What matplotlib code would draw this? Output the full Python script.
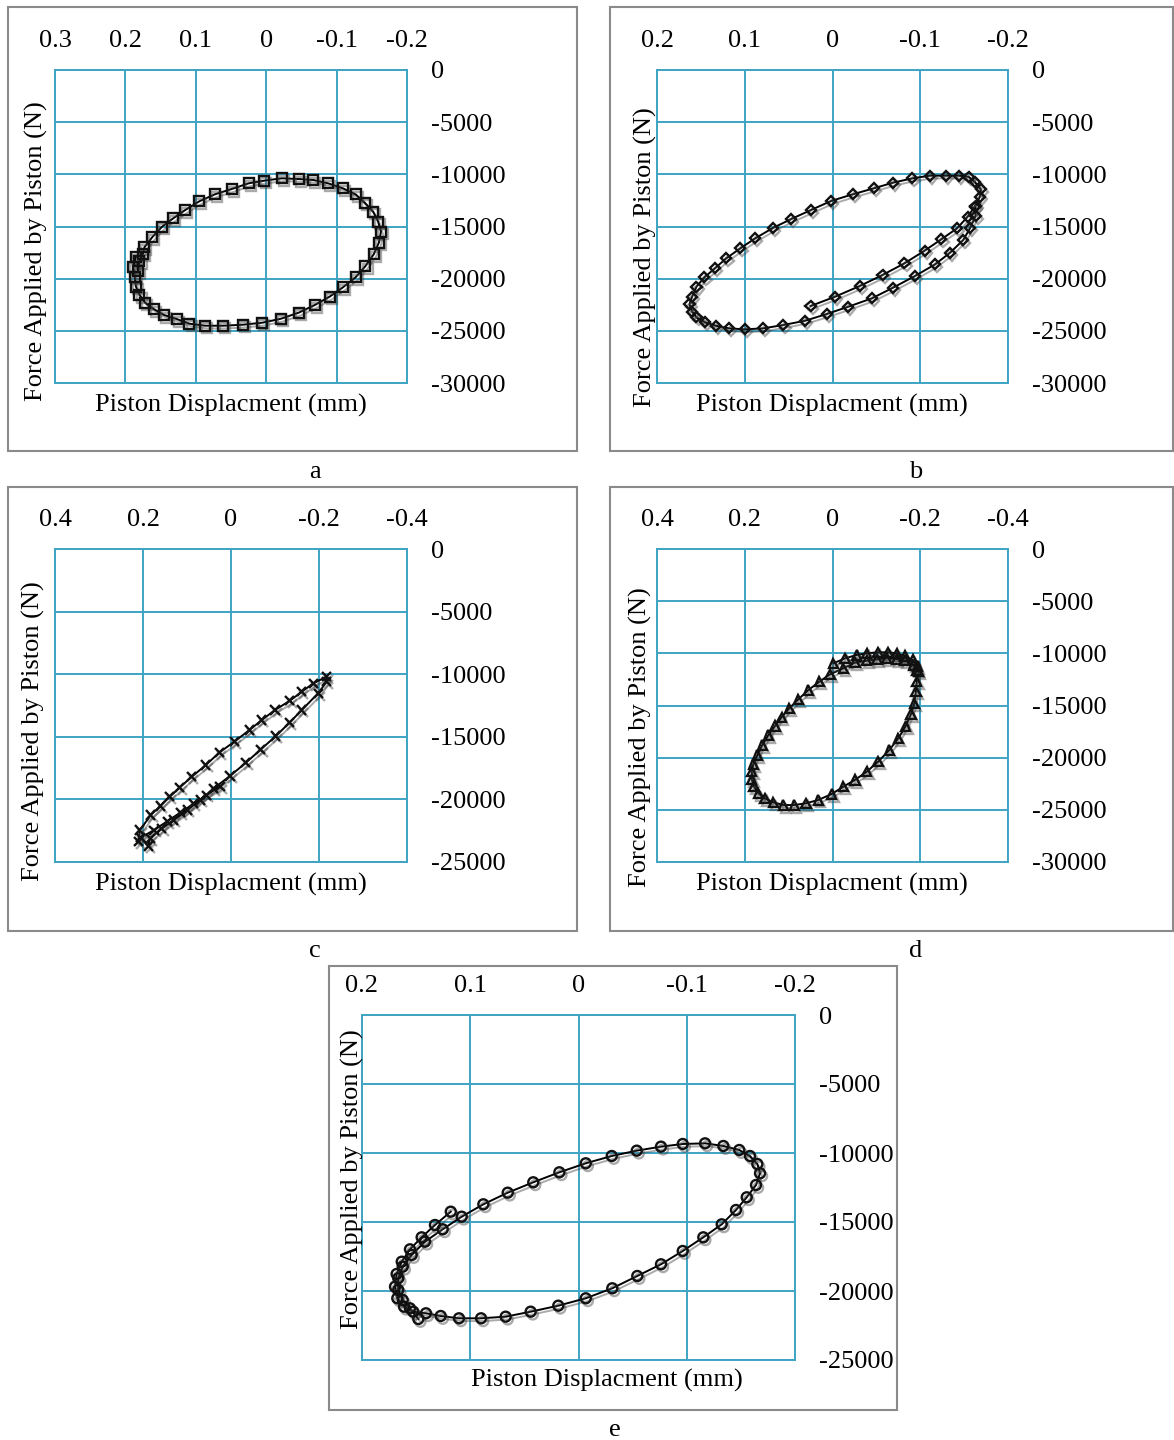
import matplotlib
matplotlib.use('Agg')
import matplotlib.pyplot as plt
import matplotlib.patheffects as pe
from matplotlib.patches import Rectangle

plt.rcParams['font.family'] = ['Liberation Serif', 'DejaVu Serif']

# ---------------- DATA ----------------
# Panel a (square markers)
a_x = [0.182, 0.180, 0.175, 0.173, 0.162, 0.148, 0.132, 0.115, 0.095, 0.073, 0.049, 0.025, 0.003,
       -0.022, -0.046, -0.067, -0.088, -0.109, -0.127, -0.140, -0.152, -0.159, -0.163, -0.160,
       -0.153, -0.141, -0.127, -0.109, -0.090, -0.069, -0.046, -0.021, 0.0055, 0.033, 0.061,
       0.0865, 0.109, 0.127, 0.145, 0.159, 0.172, 0.180, 0.185, 0.187, 0.189, 0.185]
a_y = [-19300, -18300, -17600, -16994, -16036, -15020, -14214, -13419, -12585, -11917, -11406,
       -10863, -10608, -10381, -10448, -10544, -10863, -11342, -11917, -12719, -13582, -14540,
       -15499, -16553, -17636, -18787, -19870, -20829, -21729, -22525, -23263, -23838, -24221,
       -24413, -24509, -24509, -24317, -23867, -23483, -22940, -22304, -21566, -20767, -19808,
       -18850, -17900]

# Panel b (diamond markers)
b_x = [0.025, -0.003, -0.031, -0.057, -0.082, -0.105, -0.124, -0.142, -0.154, -0.162, -0.168,
       -0.169, -0.162, -0.155, -0.144, -0.129, -0.111, -0.091, -0.069, -0.047, -0.023, 0.0017,
       0.0245, 0.047, 0.068, 0.088, 0.105, 0.121, 0.134, 0.146, 0.155, 0.160, 0.163, 0.160,
       0.155, 0.145, 0.133, 0.118, 0.100, 0.079, 0.056, 0.031, 0.0066, -0.018, -0.045, -0.069,
       -0.094, -0.117, -0.134, -0.149, -0.157, -0.163, -0.163]
b_y = [-22621, -21729, -20704, -19650, -18529, -17316, -16228, -15173, -14061, -13103, -12144,
       -11438, -10703, -10224, -10128, -10128, -10128, -10384, -10799, -11342, -11917, -12556,
       -13419, -14282, -15144, -16132, -17090, -18049, -19007, -19872, -20767, -21729, -22461,
       -23167, -23707, -24186, -24509, -24762, -24858, -24762, -24442, -24029, -23388, -22688,
       -21883, -20865, -19745, -18624, -17512, -16295, -15116, -13994, -13000]

# Panel c (cross markers)
c_x = [0.211, 0.207, 0.182, 0.161, 0.139, 0.116, 0.089, 0.057, 0.027, -0.0075, -0.042, -0.070,
       -0.100, -0.134, -0.161, -0.187, -0.2175, -0.2175, -0.198, -0.161, -0.133, -0.102, -0.068,
       -0.034, 0.0023, 0.039, 0.070, 0.099, 0.130, 0.157, 0.184, 0.188, 0.205, 0.175, 0.145,
       0.115, 0.085, 0.055, 0.025]
c_y = [-23378, -22443, -21245, -20527, -19783, -19035, -18183, -17252, -16268, -15391, -14457,
       -13658, -12859, -12114, -11396, -10730, -10198, -10596, -11523, -12859, -13871, -14936,
       -15998, -17066, -18130, -19113, -20047, -20846, -21645, -22310, -23106, -23721, -23050,
       -22450, -21750, -21050, -20350, -19650, -18950]

# Panel d (triangle markers)
d_x = [-0.002, -0.0285, -0.055, -0.078, -0.104, -0.127, -0.146, -0.165, -0.183, -0.194, -0.196,
       -0.192, -0.190, -0.1865, -0.179, -0.167, -0.150, -0.1295, -0.104, -0.078, -0.051, -0.0247,
       0.0018, 0.0323, 0.0604, 0.087, 0.112, 0.135, 0.154, 0.169, 0.179, 0.184, 0.184, 0.1805,
       0.171, 0.160, 0.146, 0.131, 0.116, 0.0985, 0.078, 0.055, 0.030, 0.0057, -0.0247, -0.051,
       -0.078, -0.101, -0.1235, -0.146, -0.165, -0.184, -0.193]
d_y = [-10958, -10480, -10160, -9997, -9901, -9901, -9997, -10256, -10640, -11215, -11758,
       -12720, -13678, -14790, -15815, -16966, -18145, -19267, -20388, -21345, -22141, -22780,
       -23483, -24054, -24373, -24540, -24540, -24277, -23895, -23413, -22780, -22077, -21345,
       -20610, -19748, -18790, -17830, -16966, -16135, -15272, -14410, -13518, -12720, -12010,
       -11436, -10896, -10704, -10570, -10480, -10544, -10704, -11118, -11597]

# Panel e (circle markers)
e_x = [0.118, 0.1326, 0.1449, 0.1557, 0.1633, 0.168, 0.1695, 0.1674, 0.1612, 0.1526, 0.1409,
       0.1273, 0.1104, 0.090, 0.0673, 0.0442, 0.0187, -0.0067, -0.0312, -0.0543, -0.0762,
       -0.0963, -0.1153, -0.1323, -0.1455, -0.1554, -0.164, -0.1677, -0.1652, -0.1584, -0.1485,
       -0.1338, -0.1169, -0.0963, -0.0762, -0.0538, -0.0307, -0.0067, 0.0177, 0.0418, 0.0654,
       0.0879, 0.1079, 0.1255, 0.1418, 0.1541, 0.1624, 0.1665, 0.1665, 0.1624, 0.1557, 0.148]
e_y = [-14252, -15217, -16110, -16980, -17876, -18767, -19688, -20528, -21136, -21499, -21615,
       -21811, -21978, -21978, -21861, -21499, -21064, -20528, -19803, -18912, -18064, -17101,
       -16110, -15168, -14130, -13210, -12318, -11471, -10797, -10217, -9782, -9492, -9299,
       -9347, -9540, -9830, -10217, -10746, -11398, -12122, -12875, -13717, -14615, -15529,
       -16427, -17390, -18238, -19079, -19927, -20651, -21253, -22028]

a_xticks = [0.3, 0.2, 0.1, 0, -0.1, -0.2]
b_xticks = [0.2, 0.1, 0, -0.1, -0.2]
c_xticks = [0.4, 0.2, 0, -0.2, -0.4]
d_xticks = [0.4, 0.2, 0, -0.2, -0.4]
e_xticks = [0.2, 0.1, 0, -0.1, -0.2]
y_ticks_30k = [0, -5000, -10000, -15000, -20000, -25000, -30000]
y_ticks_25k = [0, -5000, -10000, -15000, -20000, -25000]

panel_letters = ['a', 'b', 'c', 'd', 'e']
x_label = 'Piston Displacment (mm)'
y_label = 'Force Applied by Piston (N)'

# ---------------- LAYOUT ----------------
W, H = 1174, 1440
fig = plt.figure(figsize=(W / 100, H / 100), dpi=100)
BLUE = '#3FA3C4'
FS = 19


def fx(px):
    return px / W


def fy(py):
    return 1 - py / H


panels = [
    dict(x=a_x, y=a_y, xt=a_xticks, yt=y_ticks_30k, marker='s', ms=7.2,
         ax=(55, 70, 407, 383), box=(8, 7, 577, 451), yl=(36, 251), xl=(231, 405), let=(315, 472)),
    dict(x=b_x, y=b_y, xt=b_xticks, yt=y_ticks_30k, marker='D', ms=5.2,
         ax=(657, 70, 1008, 383), box=(610, 7, 1173, 451), yl=(645, 257), xl=(832, 405), let=(916, 472)),
    dict(x=c_x, y=c_y, xt=c_xticks, yt=y_ticks_25k, marker='x', ms=6.5,
         ax=(55, 549, 407, 862), box=(8, 487, 577, 931), yl=(33, 731), xl=(231, 884), let=(315, 951)),
    dict(x=d_x, y=d_y, xt=d_xticks, yt=y_ticks_30k, marker='^', ms=6.8,
         ax=(657, 549, 1008, 862), box=(610, 487, 1173, 931), yl=(640, 737), xl=(832, 884), let=(916, 951)),
    dict(x=e_x, y=e_y, xt=e_xticks, yt=y_ticks_25k, marker='o', ms=7.2,
         ax=(362, 1015, 795, 1360), box=(329, 966, 897, 1410), yl=(352, 1179), xl=(607, 1380), let=(615, 1430)),
]

for p, letter in zip(panels, panel_letters):
    x0, y0, x1, y1 = p['box']
    fig.patches.append(Rectangle((fx(x0), fy(y1)), fx(x1) - fx(x0), fy(y0) - fy(y1),
                                 transform=fig.transFigure, fill=False,
                                 edgecolor='#8a8a8a', linewidth=1.5, zorder=0))
    l, t, r, b = p['ax']
    ax = fig.add_axes([fx(l), fy(b), fx(r) - fx(l), fy(t) - fy(b)])
    ax.set_xlim(max(p['xt']), min(p['xt']))
    ax.set_ylim(min(p['yt']), 0)
    ax.set_xticks(p['xt'])
    ax.set_xticklabels([f"{v:g}" for v in p['xt']])
    ax.set_yticks(p['yt'])
    ax.set_yticklabels([f"{int(v)}" for v in p['yt']])
    ax.xaxis.tick_top()
    ax.yaxis.tick_right()
    ax.tick_params(axis='x', length=0, pad=13, labelsize=FS)
    ax.tick_params(axis='y', length=0, pad=17, labelsize=FS)
    ax.grid(True, color=BLUE, linewidth=1.4)
    ax.set_axisbelow(True)
    for s in ax.spines.values():
        s.set_color(BLUE)
        s.set_linewidth(1.4)
    ax.plot(p['x'], p['y'], color='black', linewidth=1.4, marker=p['marker'],
            markersize=p['ms'], markerfacecolor='none', markeredgecolor='#111111',
            markeredgewidth=1.7,
            path_effects=[pe.SimpleLineShadow(offset=(1.5, -2.0), shadow_color='#444444', alpha=0.45),
                          pe.Normal()])
    fig.text(fx(p['yl'][0]), fy(p['yl'][1]), y_label, rotation=90, ha='center', va='center', fontsize=FS)
    fig.text(fx(p['xl'][0]), fy(p['xl'][1]), x_label, ha='center', va='center', fontsize=FS)
    fig.text(fx(p['let'][0]), fy(p['let'][1]), letter, ha='center', va='center', fontsize=FS)

fig.savefig('out.png', dpi=100, facecolor='white')
